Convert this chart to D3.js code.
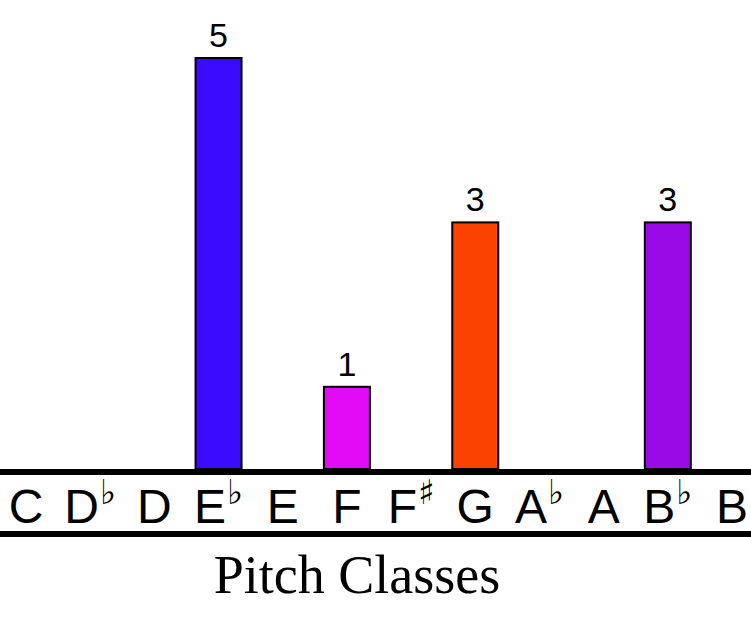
<!DOCTYPE html>
<html>
<head>
<meta charset="utf-8">
<script src="https://cdn.jsdelivr.net/npm/d3@7"></script>
<style>
  html, body { margin: 0; padding: 0; background: #fff; }
  svg { display: block; }
</style>
</head>
<body>
<svg id="chart" width="751" height="631"></svg>
<script>
// ---- data ----
const pitchClasses = ["C", "D♭", "D", "E♭", "E", "F", "F♯", "G", "A♭", "A", "B♭", "B"];
const counts       = [0, 0, 0, 5, 0, 1, 0, 3, 0, 0, 3, 0];
const barColors    = ["#000000", "#000000", "#000000", "#3b0bff", "#000000", "#e30af5",
                      "#000000", "#fb4200", "#000000", "#000000", "#9a0ae6", "#000000"];
const axisTitle = "Pitch Classes";

// ---- layout ----
const W = 751, H = 631;
const svg = d3.select("#chart");

const x = d3.scalePoint().domain(pitchClasses).range([26, 732]);
const y = d3.scaleLinear().domain([0, 5]).range([469, 58]);
const barW = 46;

const data = pitchClasses.map((p, i) => ({ p, v: counts[i], c: barColors[i] }));
const nonzero = data.filter(d => d.v > 0);

// bars
svg.append("g").selectAll("rect").data(nonzero).join("rect")
  .attr("x", d => x(d.p) - barW / 2)
  .attr("y", d => y(d.v))
  .attr("width", barW)
  .attr("height", d => y(0) - y(d.v))
  .attr("fill", d => d.c)
  .attr("stroke", "#000")
  .attr("stroke-width", 2);

// value labels
svg.append("g").selectAll("text").data(nonzero).join("text")
  .attr("x", d => x(d.p))
  .attr("y", d => y(d.v) - 11)
  .attr("text-anchor", "middle")
  .attr("font-family", "'Liberation Sans', Arial, sans-serif")
  .attr("font-size", 34)
  .attr("fill", "#000")
  .text(d => d.v);

// axis lines
svg.append("line").attr("x1", 0).attr("x2", W).attr("y1", 472).attr("y2", 472)
  .attr("stroke", "#000").attr("stroke-width", 6);
svg.append("line").attr("x1", 0).attr("x2", W).attr("y1", 534).attr("y2", 534)
  .attr("stroke", "#000").attr("stroke-width", 6);

// tick labels (letter + accidental superscript)
const ticks = svg.append("g").selectAll("text").data(pitchClasses).join("text")
  .attr("y", 523)
  .attr("font-family", "'Liberation Sans', Arial, sans-serif")
  .attr("font-size", 48)
  .attr("fill", "#000");
ticks.each(function(p) {
  const t = d3.select(this);
  const letter = p[0];
  const acc = p.slice(1);
  t.append("tspan").text(letter);
  if (acc) {
    t.append("tspan")
      .attr("font-family", "'DejaVu Sans', sans-serif")
      .attr("font-size", 34)
      .attr("dx", 1)
      .attr("dy", -19)
      .text(acc);
  }
  const w = this.getBBox().width;
  t.attr("x", x(p) - w / 2);
});

// axis title
svg.append("text")
  .attr("x", 357)
  .attr("y", 593)
  .attr("text-anchor", "middle")
  .attr("font-family", "'Liberation Serif', 'Times New Roman', serif")
  .attr("font-size", 54)
  .attr("fill", "#000")
  .text(axisTitle);
</script>
</body>
</html>
